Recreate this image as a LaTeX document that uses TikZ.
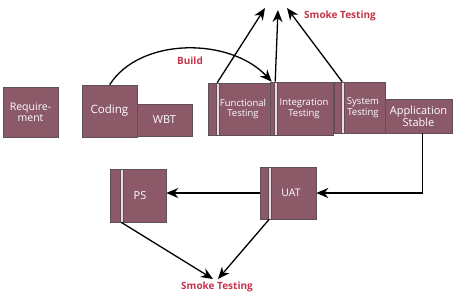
\documentclass[tikz,border=0pt]{standalone}
\usepackage{fontspec}
\setmainfont{Open Sans}
\usepackage{xcolor}
\usetikzlibrary{arrows.meta, positioning, calc}
\definecolor{mauve}{RGB}{139,89,104}
\definecolor{mauveline}{RGB}{95,80,86}
\definecolor{stripefill}{RGB}{240,216,223}
\definecolor{smokered}{RGB}{196,52,74}
\newcommand{\fs}[1]{\fontsize{#1}{#1}\selectfont}

\begin{document}
\begin{tikzpicture}[x=1pt, y=-1pt,
    phase/.style={rectangle, draw=mauveline, fill=mauve, line width=0.6pt,
        text=white, font=\fs{9.5}, align=center, inner sep=1pt},
    stripe/.style={draw=mauveline, fill=stripefill, line width=0.4pt},
    arr/.style={-{Stealth[length=12pt, width=10pt]}, line width=1.3pt, black},
    lbl/.style={font=\fs{10}\bfseries, text=smokered}
]
    \useasboundingbox (0,0) rectangle (460,295);

    % upper row
    \node[phase, minimum width=55pt, minimum height=50pt, font=\fs{10.5}] (req) at (30.5,112) {Require-\\[1pt]ment};
    \node[phase, minimum width=55pt, minimum height=52pt, font=\fs{11.5}] (cod) at (109.5,111) {Coding};
    \node[phase, minimum width=55pt, minimum height=32pt, font=\fs{11}] (wbt) at (164.5,120) {WBT};
    \node[phase, minimum width=62pt, minimum height=52pt] (ft) at (239,109) {\hspace{8pt}Functional\\[1pt]\hspace{8pt}Testing};
    \node[phase, minimum width=63pt, minimum height=53pt, font=\fs{9.5}] (it) at (301.5,108.5) {\hspace{5pt}Integration\\[1pt]\hspace{5pt}Testing};
    \node[phase, minimum width=52pt, minimum height=51pt] (st) at (359,107.5) {\hspace{8pt}System\\[1pt]\hspace{8pt}Testing};
    \node[phase, minimum width=67pt, minimum height=34pt, font=\fs{11}] (as) at (418.5,116) {Application\\[1pt]Stable};

    % lower row
    \node[phase, minimum width=56pt, minimum height=52pt, font=\fs{10.5}] (uat) at (288,193) {\hspace{6pt}UAT};
    \node[phase, minimum width=56pt, minimum height=53pt, font=\fs{11}] (ps) at (138,195.5) {\hspace{4pt}PS};

    % stripes
    \draw[stripe] ($(ft.north west)+(8,0)$) rectangle ($(ft.south west)+(11,0)$);
    \draw[stripe] ($(it.north west)+(4,0)$) rectangle ($(it.south west)+(7,0)$);
    \draw[mauveline, line width=0.8pt] ($(st.north west)+(2,0)$) -- ($(st.south west)+(2,0)$);
    \draw[stripe] ($(st.north west)+(8,0)$) rectangle ($(st.south west)+(11,0)$);
    \draw[stripe] ($(uat.north west)+(8,0)$) rectangle ($(uat.south west)+(11,0)$);
    \draw[stripe] ($(ps.north west)+(10,0)$) rectangle ($(ps.south west)+(13,0)$);

    \coordinate (ftS) at ($(ft.north west)+(9.5,0)$);
    \coordinate (itS) at ($(it.north west)+(5.5,0)$);
    \coordinate (stS) at ($(st.north west)+(9.5,0)$);
    \coordinate (uatS) at ($(uat.south west)+(9.5,0)$);
    \coordinate (psS) at ($(ps.south west)+(11.5,0)$);
    \coordinate (codS) at ($(cod.north west)+(28,0)$);
    \coordinate (itB) at ($(it.north west)+(2,0)$);
    \coordinate (asB) at ($(as.south)+(4,0)$);

    \coordinate (smk1) at (265,8);
    \coordinate (smk2) at (278,10);
    \coordinate (smk3) at (287,8);
    \coordinate (smk4) at (213,279);
    \coordinate (smk5) at (218,279);

    % arrows
    \draw[arr] (codS) .. controls (140,37) and (230,37) .. (itB);
    \draw[arr] (ftS) -- (smk1);
    \draw[arr] (itS) -- (smk2);
    \draw[arr] (stS) -- (smk3);
    \draw[arr] (asB) |- (uat.east);
    \draw[arr] (uat.west) -- (ps.east |- uat.west);
    \draw[arr] (psS) -- (smk4);
    \draw[arr] (uatS) -- (smk5);

    \node[lbl] (smokeTop) at (340,16) {Smoke Testing};
    \node[lbl] (build) at (190,61) {Build};
    \node[lbl] (smokeBot) at (217,287) {Smoke Testing};
\end{tikzpicture}
\end{document}
